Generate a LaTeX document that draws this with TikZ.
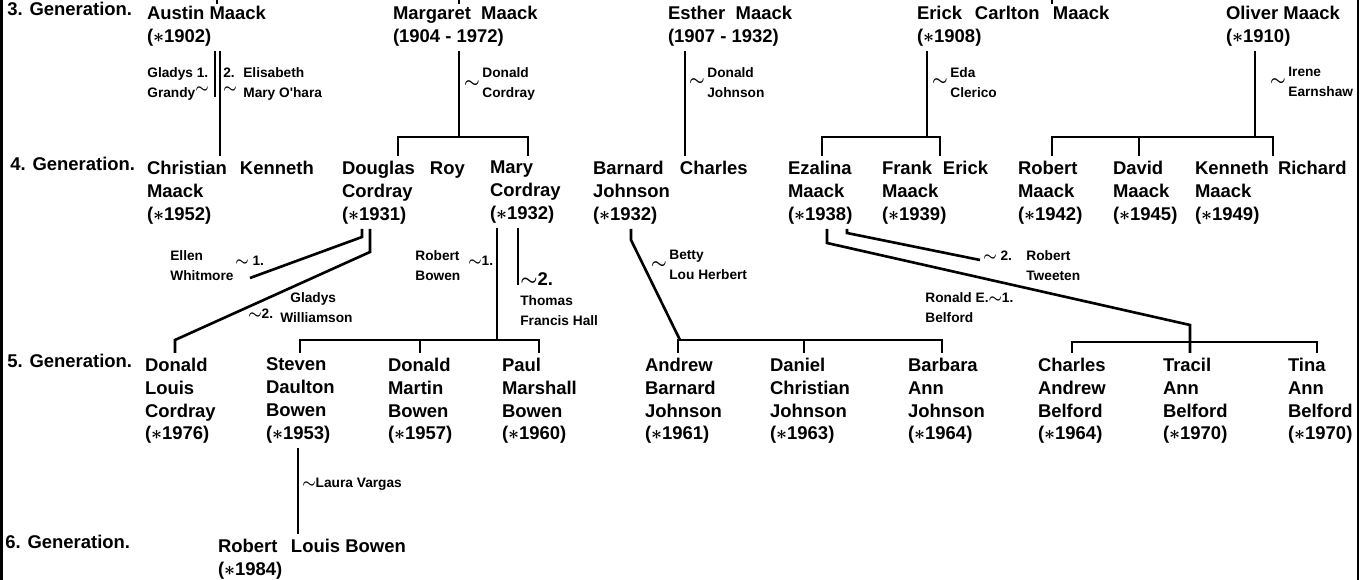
\documentclass[tikz,border=0pt]{standalone}
\usepackage{amsmath}
\usepackage{fontspec}
\newfontfamily\treefont{Liberation Sans}
\newcommand\birth{$\boldsymbol{\ast}$}
\newcommand\mar{$\boldsymbol{\sim}$}
\begin{document}
\begin{tikzpicture}[x=0.2mm,y=-0.2mm,
    kin/.style={line width=1.5pt},
    genlab/.style={anchor=north west,inner sep=0pt,font=\treefont\bfseries\fontsize{10.5}{13}\selectfont},
    person/.style={anchor=north west,inner sep=0pt,outer xsep=0pt,outer ysep=1mm,align=left,font=\treefont\bfseries\fontsize{10.5}{13}\selectfont},
    spouse/.style={anchor=north west,inner sep=0pt,align=left,font=\treefont\bfseries\fontsize{7.8}{11.4}\selectfont},
    mlab/.style={inner sep=1pt,font=\fontsize{10}{10}\selectfont}]
\useasboundingbox (0,0) rectangle (1362,580);
% frame and cut lines from above
\draw[line width=1.6pt] (1.5,0) -- (1.5,580);
\draw[line width=1.6pt] (1358,0) -- (1358,580);
\foreach \x in {217,459,1052}
    \draw[kin] (\x,0) -- (\x,4);
\foreach \g/\x/\y in {3/7/2, 4/10/157, 5/7/354, 6/5/535}
    \node[genlab] (gen\g) at (\x,\y) {\g. Generation.};
% 3. generation
\node[person] (austin) at (147,1) {Austin Maack\\(\birth1902)};
\node[person] (margaret) at (393,1) {Margaret\ \ Maack\\(1904 - 1972)};
\node[person] (esther) at (668,1) {Esther\ \ Maack\\(1907 - 1932)};
\node[person] (erick) at (917,1) {\makebox[11.6mm][l]{Erick}\makebox[15.6mm][l]{Carlton}Maack\\(\birth1908)};
\node[person] (oliver) at (1226,1) {Oliver Maack\\(\birth1910)};
% 4. generation
\node[person] (christian) at (147,156) {\makebox[18.6mm][l]{Christian}Kenneth\\Maack\\(\birth1952)};
\node[person] (douglas) at (342,156) {\makebox[17.6mm][l]{Douglas}Roy\\Cordray\\(\birth1931)};
\node[person] (mary) at (490,156) {Mary\\Cordray\\(\birth1932)};
\node[person] (barnard) at (593,156) {\makebox[17.4mm][l]{Barnard}Charles\\Johnson\\(\birth1932)};
\node[person] (ezalina) at (788,156) {Ezalina\\Maack\\(\birth1938)};
\node[person] (frank) at (882,156) {\makebox[12.2mm][l]{Frank}Erick\\Maack\\(\birth1939)};
\node[person] (robert) at (1018,156) {Robert\\Maack\\(\birth1942)};
\node[person] (david) at (1113,156) {David\\Maack\\(\birth1945)};
\node[person] (kenneth) at (1195,156) {\makebox[16.6mm][l]{Kenneth}Richard\\Maack\\(\birth1949)};
% 5. generation
\node[person] (donald) at (145,353) {Donald\\Louis\\Cordray\\(\birth1976)};
\node[person] (steven) at (266,353) {Steven\\Daulton\\Bowen\\(\birth1953)};
\node[person] (donaldm) at (388,353) {Donald\\Martin\\Bowen\\(\birth1957)};
\node[person] (paul) at (502,353) {Paul\\Marshall\\Bowen\\(\birth1960)};
\node[person] (andrew) at (645,353) {Andrew\\Barnard\\Johnson\\(\birth1961)};
\node[person] (daniel) at (770,353) {Daniel\\Christian\\Johnson\\(\birth1963)};
\node[person] (barbara) at (908,353) {Barbara\\Ann\\Johnson\\(\birth1964)};
\node[person] (charles) at (1038,353) {Charles\\Andrew\\Belford\\(\birth1964)};
\node[person] (tracil) at (1163,353) {Tracil\\Ann\\Belford\\(\birth1970)};
\node[person] (tina) at (1288,353) {Tina\\Ann\\Belford\\(\birth1970)};
% 6. generation
\node[person] (robertl) at (218,534) {\makebox[14.6mm][l]{Robert}Louis Bowen\\(\birth1984)};
% spouses
\node[spouse] (gladys) at (147,67) {Gladys 1.\\Grandy\raisebox{3pt}{\mar}};
\node[spouse] (elisabeth) at (223,67) {\makebox[4mm][l]{2.}Elisabeth\\\makebox[4mm][l]{\raisebox{3pt}{\mar}}Mary O'hara};
\node[spouse,label={[mlab]west:\mar}] (donaldc) at (482,67) {Donald\\Cordray};
\node[spouse,label={[mlab]west:\mar}] (donaldj) at (707,67) {Donald\\Johnson};
\node[spouse,label={[mlab]west:\mar}] (eda) at (950,67) {Eda\\Clerico};
\node[spouse,label={[mlab]west:\mar}] (irene) at (1288,67) {Irene\\Earnshaw};
\node[spouse] (ellen) at (170,250) {\makebox[13mm][l]{Ellen}\raisebox{-3pt}{\mar\ 1.}\\Whitmore};
\node[spouse] (gladysw) at (248,292) {\hspace*{8.4mm}Gladys\\\makebox[6.4mm][l]{\raisebox{2pt}{\mar2.}}Williamson};
\node[spouse] (robertb) at (415,250) {\makebox[10.6mm][l]{Robert}\raisebox{-3pt}{\mar1.}\\Bowen};
\node[spouse] (thomas) at (520,272) {{\fontsize{10.5}{11}\selectfont\mar2.}\\Thomas\\Francis Hall};
\node[spouse,label={[mlab]west:\mar}] (betty) at (669,250) {Betty\\Lou Herbert};
\node[spouse] (robertt) at (983,250) {\makebox[8.6mm][l]{\mar\ 2.}Robert\\\hspace*{8.6mm}Tweeten};
\node[spouse] (ronald) at (925,292) {Ronald E.\mar1.\\Belford};
\node[spouse] (laura) at (302,478) {\mar Laura Vargas};
% 3 -> 4
\draw[kin] (austin.south -| 215,0) -- (215,97);
\draw[kin] (austin.south -| 220,0) -- (christian.north -| 220,0);
\draw[kin] (margaret.south -| 459,0) -- (459,137) coordinate (mj);
\draw[kin] (douglas.north -| 398,0) |- (mj) -| (mary.north -| 528,0);
\draw[kin] (esther.south -| 685,0) -- (barnard.north -| 685,0);
\draw[kin] (erick.south -| 927,0) -- (927,137) coordinate (ej);
\draw[kin] (ezalina.north -| 822,0) |- (ej) -| (frank.north -| 940,0);
\draw[kin] (oliver.south -| 1255,0) -- (1255,137) coordinate (oj);
\draw[kin] (robert.north -| 1052,0) |- (oj) -| (kenneth.north -| 1273,0);
\draw[kin] (david.north -| 1139,0) -- (1139,137);
% 4 -> 5
\draw[kin] (douglas.south -| 362,0) -- (362,237) -- (250,278);
\draw[kin] (douglas.south -| 370,0) -- (370,252) -- (175,340) -- (donald.north -| 175,0);
\draw[kin] (mary.south -| 497,0) -- (497,340) coordinate (bj);
\draw[kin] (steven.north -| 300,0) |- (bj) -| (paul.north -| 539,0);
\draw[kin] (donaldm.north -| 420,0) -- (420,340);
\draw[kin] (mary.south -| 518,0) -- (518,285);
\draw[kin] (barnard.south -| 631,0) -- (631,240) -- (680,340);
\draw[kin] (andrew.north -| 678,0) -- (678,340) -| (barbara.north -| 942,0);
\draw[kin] (daniel.north -| 804,0) -- (804,340);
\draw[kin] (ezalina.south -| 847,0) -- (847,233) -- (980,260);
\draw[kin] (ezalina.south -| 827,0) -- (827,243) -- (1190,325) -- (tracil.north -| 1190,0);
\draw[kin] (charles.north -| 1072,0) |- (1190,342) -| (tina.north -| 1317,0);
% 5 -> 6
\draw[kin] (steven.south -| 298,0) -- (robertl.north -| 298,0);
\end{tikzpicture}
\end{document}
